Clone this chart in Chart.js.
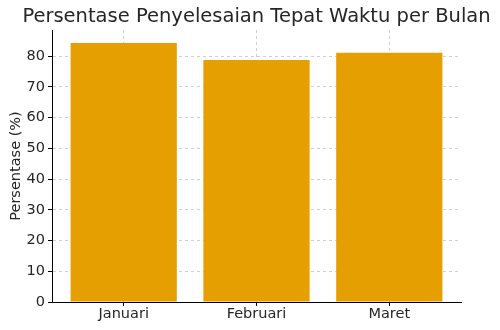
<!DOCTYPE html>
<html>
<head>
<meta charset="utf-8">
<script src="https://cdn.jsdelivr.net/npm/chart.js@4/dist/chart.umd.min.js"></script>
<style>
  html, body { margin: 0; padding: 0; background: #fff; }
  #wrap { width: 500px; height: 330px; }
</style>
</head>
<body>
<div id="wrap"><canvas id="chart"></canvas></div>
<script>
// Chart data
const months = ['Januari', 'Februari', 'Maret'];
const onTimePercent = [84.3, 78.7, 81.1];
const yTicks = [0, 10, 20, 30, 40, 50, 60, 70, 80];

const chartTitle = 'Persentase Penyelesaian Tepat Waktu per Bulan';
const textColor = '#262626';
const gridColor = 'rgba(176,176,176,0.6)';

// Title centred over the plot area, like matplotlib does
const plotTitle = {
    id: 'plotTitle',
    afterDraw(chart) {
        const { ctx, chartArea } = chart;
        ctx.save();
        ctx.fillStyle = textColor;
        ctx.font = '19.5px "DejaVu Sans"';
        ctx.textAlign = 'center';
        ctx.textBaseline = 'middle';
        ctx.fillText(chartTitle, (chartArea.left + chartArea.right) / 2, 17);
        ctx.restore();
    }
};

const ctx = document.getElementById('chart').getContext('2d');
new Chart(ctx, {
    type: 'bar',
    data: {
        datasets: [{
            data: onTimePercent.map((v, i) => ({ x: i, y: v })),
            backgroundColor: '#E69F00',
            borderWidth: 0,
            barPercentage: 0.8,
            categoryPercentage: 1
        }]
    },
    options: {
        responsive: true,
        maintainAspectRatio: false,
        animation: false,
        layout: { padding: { top: 30, right: 39, left: 0, bottom: 0 } },
        plugins: {
            legend: { display: false },
            tooltip: { enabled: false }
        },
        scales: {
            x: {
                type: 'linear',
                min: -0.54,
                max: 2.54,
                offset: false,
                afterFit: (scale) => { scale.height = 28; },
                ticks: {
                    stepSize: 1,
                    includeBounds: false,
                    autoSkip: false,
                    maxRotation: 0,
                    padding: 0,
                    color: textColor,
                    font: { family: 'DejaVu Sans', size: 14.5 },
                    callback: (v) => months[v] ?? ''
                },
                grid: {
                    offset: false,
                    color: gridColor,
                    tickColor: '#000',
                    tickLength: 4,
                    tickBorderDash: []
                },
                border: { display: true, color: '#000', width: 1, dash: [3, 3] }
            },
            y: {
                min: 0,
                max: 88.5,
                afterFit: (scale) => { scale.width = 52; },
                afterBuildTicks: (scale) => { scale.ticks = yTicks.map(v => ({ value: v })); },
                ticks: {
                    padding: 3,
                    color: textColor,
                    font: { family: 'DejaVu Sans', size: 14.5 }
                },
                grid: {
                    color: gridColor,
                    tickColor: '#000',
                    tickLength: 4,
                    tickBorderDash: []
                },
                border: { display: true, color: '#000', width: 1, dash: [3, 3] },
                title: {
                    display: true,
                    text: 'Persentase (%)',
                    color: textColor,
                    font: { family: 'DejaVu Sans', size: 14.5 },
                    padding: { top: 8, bottom: 0 }
                }
            }
        }
    },
    plugins: [plotTitle]
});
</script>
</body>
</html>
